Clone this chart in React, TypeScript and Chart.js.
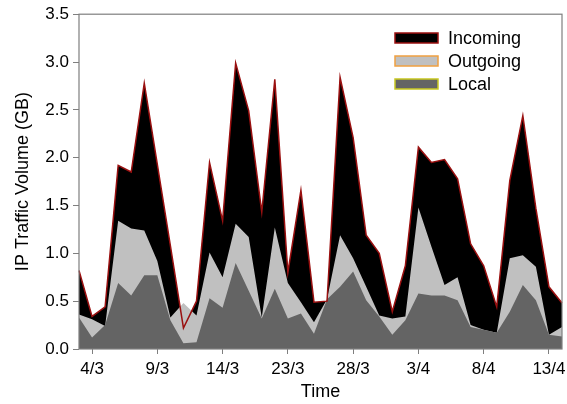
import React, { useEffect, useRef } from 'react';
import { Chart, registerables } from 'chart.js';

Chart.register(...registerables);

const categories = [
  '', '4/3', '', '', '', '', '9/3', '', '', '', '', '14/3', '', '', '', '', '23/3', '', '', '',
  '', '28/3', '', '', '', '', '3/4', '', '', '', '', '8/4', '', '', '', '', '13/4', '',
];

const incoming = [
  0.82, 0.34, 0.44, 1.92, 1.85, 2.78, 1.93, 1.08, 0.22, 0.50,
  1.95, 1.34, 2.99, 2.49, 1.43, 2.82, 0.80, 1.66, 0.49, 0.50,
  2.84, 2.21, 1.19, 1.00, 0.39, 0.87, 2.11, 1.95, 1.98, 1.78,
  1.10, 0.87, 0.44, 1.76, 2.44, 1.47, 0.65, 0.48,
];

const outgoing = [
  0.36, 0.31, 0.24, 1.34, 1.26, 1.24, 0.92, 0.33, 0.48, 0.35,
  1.01, 0.75, 1.31, 1.17, 0.33, 1.27, 0.69, 0.49, 0.28, 0.52,
  1.19, 0.95, 0.65, 0.35, 0.32, 0.34, 1.48, 1.07, 0.67, 0.75,
  0.25, 0.20, 0.17, 0.95, 0.98, 0.86, 0.15, 0.23,
];

const local = [
  0.33, 0.12, 0.25, 0.69, 0.56, 0.77, 0.77, 0.30, 0.06, 0.07,
  0.53, 0.43, 0.90, 0.61, 0.32, 0.63, 0.32, 0.37, 0.16, 0.52,
  0.65, 0.81, 0.51, 0.34, 0.15, 0.30, 0.58, 0.56, 0.56, 0.51,
  0.23, 0.20, 0.17, 0.39, 0.67, 0.51, 0.15, 0.13,
];

const seriesNames = ['Incoming', 'Outgoing', 'Local'];
const fillColors = ['#000000', '#c0c0c0', '#646464'];
const legendBorders = ['#9a1010', '#f0a040', '#c8c820'];

const FONT = "'Liberation Sans', Arial, sans-serif";
const AXIS_GRAY = '#7f7f7f';

const framePlugin = {
  id: 'frame',
  afterDatasetsDraw(chart: any) {
    const { ctx, chartArea } = chart;
    ctx.save();
    ctx.strokeStyle = AXIS_GRAY;
    ctx.lineWidth = 1.2;
    ctx.strokeRect(chartArea.left, chartArea.top, chartArea.right - chartArea.left, chartArea.bottom - chartArea.top);
    ctx.restore();
  },
};

const legendPlugin = {
  id: 'insideLegend',
  afterDraw(chart: any) {
    const { ctx } = chart;
    ctx.save();
    ctx.font = `18px ${FONT}`;
    ctx.textBaseline = 'middle';
    ctx.textAlign = 'left';
    chart.data.datasets.forEach((ds: any, i: number) => {
      const cy = 38 + i * 23;
      ctx.fillStyle = fillColors[i];
      ctx.fillRect(395, cy - 5, 43, 10);
      ctx.strokeStyle = legendBorders[i];
      ctx.lineWidth = 1.5;
      ctx.strokeRect(395, cy - 5, 43, 10);
      ctx.fillStyle = '#000';
      ctx.fillText(ds.label, 448, cy + 1);
    });
    ctx.restore();
  },
};

export default function App() {
  const canvasRef = useRef<HTMLCanvasElement | null>(null);

  useEffect(() => {
    if (!canvasRef.current) return;
    const chart = new Chart(canvasRef.current, {
      type: 'line',
      data: {
        labels: categories,
        datasets: [
          {
            label: seriesNames[0],
            data: incoming,
            backgroundColor: fillColors[0],
            borderColor: '#9a1010',
            borderWidth: 1.5,
            fill: 'origin',
            pointRadius: 0,
            tension: 0,
            order: 3,
          },
          {
            label: seriesNames[1],
            data: outgoing,
            backgroundColor: fillColors[1],
            borderColor: 'rgba(0,0,0,0)',
            borderWidth: 1,
            fill: 'origin',
            pointRadius: 0,
            tension: 0,
            order: 2,
          },
          {
            label: seriesNames[2],
            data: local,
            backgroundColor: fillColors[2],
            borderColor: 'rgba(0,0,0,0)',
            borderWidth: 1,
            fill: 'origin',
            pointRadius: 0,
            tension: 0,
            order: 1,
          },
        ],
      },
      options: {
        responsive: false,
        animation: false,
        layout: { padding: { top: 14, right: 4, left: 0, bottom: 0 } },
        plugins: {
          legend: { display: false },
          tooltip: { enabled: false },
          filler: { drawTime: 'beforeDatasetsDraw' },
        },
        scales: {
          x: {
            type: 'category',
            offset: false,
            border: { display: false },
            grid: {
              display: true,
              drawOnChartArea: false,
              drawTicks: true,
              tickLength: 5,
              tickColor: (c: any) => (categories[c.index] ? AXIS_GRAY : 'rgba(0,0,0,0)'),
            },
            ticks: {
              autoSkip: false,
              maxRotation: 0,
              minRotation: 0,
              padding: 5,
              color: '#000',
              font: { family: FONT, size: 17 },
              callback: (_v: any, idx: number) => categories[idx],
            },
            title: {
              display: true,
              text: 'Time',
              color: '#000',
              font: { family: FONT, size: 18 },
              padding: { top: 0, bottom: 1 },
            },
            afterFit: (scale: any) => {
              scale.height = 55;
            },
          },
          y: {
            min: 0,
            max: 3.5,
            border: { display: false },
            grid: {
              display: true,
              drawOnChartArea: false,
              drawTicks: true,
              tickLength: 6,
              tickColor: AXIS_GRAY,
            },
            ticks: {
              stepSize: 0.5,
              padding: 4,
              color: '#000',
              font: { family: FONT, size: 17 },
              callback: (v: any) => Number(v).toFixed(1),
            },
            title: {
              display: true,
              text: 'IP Traffic Volume (GB)',
              color: '#000',
              font: { family: FONT, size: 18 },
              padding: { top: 12, bottom: 0 },
            },
            afterFit: (scale: any) => {
              scale.width = 79;
            },
          },
        },
      },
      plugins: [framePlugin, legendPlugin],
    });
    return () => chart.destroy();
  }, []);

  return (
    <div style={{ position: 'absolute', left: 0, top: 0, width: 567, height: 404, background: '#fff' }}>
      <canvas ref={canvasRef} width={567} height={404} style={{ display: 'block' }} />
    </div>
  );
}
